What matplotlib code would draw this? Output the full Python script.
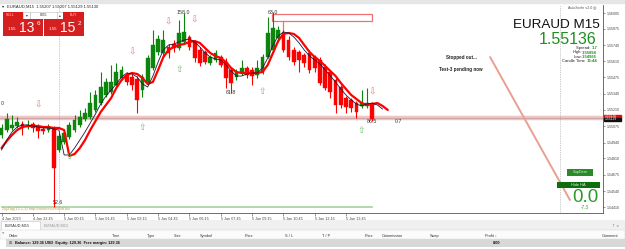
import matplotlib
matplotlib.use("Agg")
import matplotlib.pyplot as plt
from matplotlib.patches import Rectangle
import numpy as np

# ---------------- data ----------------
opens = [1.55002, 1.55043, 1.55060, 1.55076, 1.55093, 1.55068, 1.55093, 1.55068, 1.55052, 1.55043,
         1.55060, 1.54879, 1.54945, 1.54986, 1.55043, 1.55085, 1.55134, 1.55150, 1.55208, 1.55265,
         1.55331, 1.55356, 1.55413, 1.55471, 1.55496, 1.55479, 1.55463, 1.55372, 1.55438, 1.55553,
         1.55685, 1.55676, 1.55726, 1.55750, 1.55717, 1.55767, 1.55808, 1.55767, 1.55701, 1.55685,
         1.55594, 1.55619, 1.55643, 1.55602, 1.55537, 1.55479, 1.55512, 1.55553, 1.55537, 1.55496,
         1.55520, 1.55643, 1.55701, 1.55800, 1.55841, 1.55783, 1.55701, 1.55685, 1.55660, 1.55676,
         1.55643, 1.55619, 1.55561, 1.55520, 1.55454, 1.55397, 1.55306, 1.55290, 1.55265, 1.55241,
         1.55241, 1.55257]
highs = [1.55093, 1.55183, 1.55167, 1.55150, 1.55117, 1.55126, 1.55109, 1.55093, 1.55076, 1.55093,
         1.55076, 1.55019, 1.55043, 1.55109, 1.55167, 1.55208, 1.55224, 1.55356, 1.55372, 1.55520,
         1.55471, 1.55578, 1.55594, 1.55570, 1.55520, 1.55504, 1.55487, 1.55504, 1.55660, 1.55865,
         1.55824, 1.55865, 1.55750, 1.55783, 1.55948, 1.56005, 1.55824, 1.55783, 1.55726, 1.55701,
         1.55660, 1.55701, 1.55660, 1.55635, 1.55561, 1.55545, 1.55619, 1.55570, 1.55561, 1.55619,
         1.55668, 1.55972, 1.56013, 1.55898, 1.55865, 1.55816, 1.55726, 1.55701, 1.55676, 1.55701,
         1.55660, 1.55643, 1.55586, 1.55537, 1.55471, 1.55413, 1.55323, 1.55306, 1.55282, 1.55372,
         1.55389, 1.55274]
lows = [1.54978, 1.55027, 1.55043, 1.55060, 1.55002, 1.55052, 1.55027, 1.54978, 1.55011, 1.55027,
        1.54410, 1.54863, 1.54928, 1.54969, 1.55027, 1.55068, 1.55117, 1.55134, 1.55191, 1.55249,
        1.55315, 1.55339, 1.55397, 1.55454, 1.55413, 1.55372, 1.55183, 1.55315, 1.55422, 1.55537,
        1.55660, 1.55652, 1.55635, 1.55685, 1.55701, 1.55750, 1.55701, 1.55602, 1.55570, 1.55586,
        1.55578, 1.55602, 1.55561, 1.55389, 1.55348, 1.55454, 1.55496, 1.55471, 1.55413, 1.55471,
        1.55504, 1.55635, 1.55676, 1.55767, 1.55685, 1.55619, 1.55578, 1.55520, 1.55561, 1.55512,
        1.55520, 1.55413, 1.55372, 1.55306, 1.55183, 1.55224, 1.55183, 1.55191, 1.55142, 1.55224,
        1.55224, 1.55117]
closes = [1.55060, 1.55134, 1.55085, 1.55109, 1.55060, 1.55085, 1.55060, 1.55035, 1.55035, 1.55068,
          1.54731, 1.54994, 1.55019, 1.55085, 1.55126, 1.55150, 1.55183, 1.55265, 1.55331, 1.55397,
          1.55438, 1.55438, 1.55520, 1.55537, 1.55438, 1.55413, 1.55290, 1.55479, 1.55635, 1.55742,
          1.55791, 1.55783, 1.55676, 1.55717, 1.55841, 1.55849, 1.55726, 1.55635, 1.55594, 1.55602,
          1.55643, 1.55676, 1.55578, 1.55471, 1.55430, 1.55520, 1.55553, 1.55496, 1.55487, 1.55553,
          1.55643, 1.55841, 1.55882, 1.55865, 1.55701, 1.55643, 1.55602, 1.55619, 1.55594, 1.55537,
          1.55553, 1.55430, 1.55389, 1.55356, 1.55249, 1.55249, 1.55233, 1.55224, 1.55191, 1.55265,
          1.55265, 1.55136]

ma_slow = [1.54895, 1.54953, 1.55002, 1.55043, 1.55068, 1.55076, 1.55076, 1.55076, 1.55068, 1.55068,
           1.55060, 1.55060, 1.55043, 1.54830, 1.54846, 1.54895, 1.54961, 1.55043, 1.55117, 1.55191,
           1.55249, 1.55306, 1.55389, 1.55454, 1.55496, 1.55512, 1.55504, 1.55471, 1.55422, 1.55438,
           1.55537, 1.55643, 1.55701, 1.55726, 1.55742, 1.55750, 1.55767, 1.55775, 1.55759, 1.55717,
           1.55676, 1.55652, 1.55635, 1.55602, 1.55553, 1.55520, 1.55512, 1.55512, 1.55512, 1.55512,
           1.55520, 1.55578, 1.55676, 1.55775, 1.55833, 1.55841, 1.55833, 1.55800, 1.55742, 1.55685,
           1.55643, 1.55611, 1.55570, 1.55528, 1.55487, 1.55430, 1.55380, 1.55331, 1.55298, 1.55265,
           1.55249, 1.55257, 1.55265, 1.55241, 1.55208]
ma_fast = [1.54879, 1.54961, 1.55027, 1.55068, 1.55085, 1.55085, 1.55076, 1.55068, 1.55060, 1.55060,
           1.55052, 1.55043, 1.54838, 1.54838, 1.54895, 1.54961, 1.55027, 1.55101, 1.55175, 1.55257,
           1.55323, 1.55372, 1.55422, 1.55479, 1.55512, 1.55504, 1.55479, 1.55422, 1.55397, 1.55487,
           1.55602, 1.55701, 1.55742, 1.55750, 1.55767, 1.55783, 1.55791, 1.55767, 1.55726, 1.55676,
           1.55643, 1.55627, 1.55619, 1.55578, 1.55528, 1.55487, 1.55487, 1.55504, 1.55512, 1.55512,
           1.55553, 1.55635, 1.55742, 1.55816, 1.55849, 1.55841, 1.55808, 1.55759, 1.55701, 1.55652,
           1.55619, 1.55586, 1.55537, 1.55487, 1.55438, 1.55380, 1.55331, 1.55290, 1.55257, 1.55241,
           1.55257, 1.55265, 1.55249, 1.55216]

price_ticks = [1.56005, 1.55875, 1.55740, 1.55610, 1.55475, 1.55340, 1.55210,
               1.55075, 1.54940, 1.54810, 1.54675, 1.54540, 1.54410]
time_tick_bars = [0, 6, 12, 18, 24, 30, 36, 42, 48, 54, 60, 66]
time_labels = ["4 Jan 2023", "4 Jan 22:45", "5 Jan 00:15", "5 Jan 01:45", "5 Jan 03:15",
               "5 Jan 04:45", "5 Jan 06:15", "5 Jan 07:45", "5 Jan 09:15", "5 Jan 10:45",
               "5 Jan 12:15", "5 Jan 13:45"]

down_arrow_bars = [7, 25, 32, 37.0, 71]
down_arrow_prices = [1.55249, 1.55685, 1.55931, 1.55945, 1.55356]
up_arrow_bars = [13, 27, 34, 50, 69]
up_arrow_prices = [1.54822, 1.55068, 1.55537, 1.55356, 1.55043]

zz_labels = ["158.0", "63.0", "61.8", "86.5", "0.7", "52.6", "0"]
zz_bars = [34.8, 52, 44, 71, 76, 10.8, 0.1]
zz_prices = [1.56008, 1.56013, 1.55348, 1.55117, 1.55117, 1.54445, 1.55265]

bid_line = 1.55146
base_line = 1.54410
zone_bars = [51.8, 71.0]
zone_prices = [1.55939, 1.55997]
zone_stem_bar = 53.9
zone_stem_prices = [1.55701, 1.55939]
separator_bars = [11, 107]
trend_bars = [93.6, 108.9]
trend_prices = [1.55643, 1.54468]

# ---------------- figure ----------------
W, H = 625, 249
fig = plt.figure(figsize=(W / 100, H / 100), dpi=100)
fig.patch.set_facecolor("white")
FONT = ["Liberation Sans", "DejaVu Sans"]


def fx(x):
    return x / W


def fy(y):
    return 1 - y / H


ax = fig.add_axes([fx(0), fy(213), fx(603), (213 - 5) / H])
ax.set_facecolor("white")
ax.set_xlim(-0.29, 115.23)
ax.set_ylim(1.54361, 1.56071)

idx = np.arange(len(opens))
GREEN = "#0b850b"
RED = "#ff0000"

# horizontal lines
ax.axhline(bid_line, color="#ecc4c4", lw=3.2, zorder=1)
ax.axhline(bid_line, color="#c8a0a0", lw=0.6, zorder=1)
ax.plot([0, 71], [base_line, base_line], color="#a9cf9f", lw=1.2, zorder=1)
for b in separator_bars:
    ax.axvline(b, color="#9a9a9a", lw=0.5, ls=(0, (1, 1.5)), zorder=1)

# candles
for i in idx:
    o, h, l, c = opens[i], highs[i], lows[i], closes[i]
    col = GREEN if c >= o else RED
    ax.vlines(i, l, h, color=col, lw=0.8, zorder=3)
    bot = min(o, c)
    ht = max(abs(c - o), 0.00003)
    ax.bar(i, ht, bottom=bot, width=0.72, color=col, edgecolor=col, lw=0.3, zorder=4)

# moving averages
ax.plot(np.arange(len(ma_slow)), ma_slow, color="#ff0000", lw=1.6, zorder=5, solid_capstyle="round")
ax.plot(np.arange(len(ma_fast)), ma_fast, color="#1a1a3a", lw=0.6, zorder=6)

# zone rectangle + stem
ax.add_patch(Rectangle((zone_bars[0], zone_prices[0]), zone_bars[1] - zone_bars[0],
                       zone_prices[1] - zone_prices[0], fill=False, ec="#f07070", lw=0.9, zorder=2))
ax.plot([zone_stem_bar, zone_stem_bar], zone_stem_prices, color="#f07070", lw=0.9, zorder=2)

# diagonal trend line
ax.plot(trend_bars, trend_prices, color="#e8a090", lw=1.4, zorder=2, solid_capstyle="round")

# arrows
for b, p in zip(down_arrow_bars, down_arrow_prices):
    ax.text(b, p, "\u21e9", color="#e87878", fontsize=6.5, ha="center", va="center",
            family="DejaVu Sans", zorder=7)
for b, p in zip(up_arrow_bars, up_arrow_prices):
    ax.text(b, p, "\u21e7", color="#6cbf6c", fontsize=6.5, ha="center", va="center",
            family="DejaVu Sans", zorder=7)

# zigzag labels
for s, b, p in zip(zz_labels, zz_bars, zz_prices):
    ax.text(b, p, s, color="#333333", fontsize=3.8, ha="center", va="center", family=FONT, zorder=7)

# axes styling
for sp in ["left", "top"]:
    ax.spines[sp].set_visible(False)
for sp in ["right", "bottom"]:
    ax.spines[sp].set_color("#555555")
    ax.spines[sp].set_linewidth(0.6)
ax.yaxis.tick_right()
ax.set_yticks(price_ticks)
ax.set_yticklabels(["%.5f" % v for v in price_ticks], fontsize=2.6, family=FONT, color="#333333")
ax.tick_params(axis="y", length=1.5, width=0.4, pad=1.5, colors="#444444")
ax.set_xticks(time_tick_bars)
ax.set_xticklabels(time_labels, fontsize=2.7, family=FONT, color="#333333", ha="left")
ax.tick_params(axis="x", length=2, width=0.4, pad=1.0, colors="#444444")

# current price labels on axis
fig.add_artist(Rectangle((fx(604), fy(118)), fx(17), 3.2 / H, color="#e01010", transform=fig.transFigure))
fig.text(fx(605), fy(116.4), "1.55136", fontsize=2.4, color="white", va="center", family=FONT)
fig.add_artist(Rectangle((fx(604), fy(121)), fx(17), 3 / H, color="#111111", transform=fig.transFigure))
fig.text(fx(605), fy(119.5), "1.55129", fontsize=2.4, color="white", va="center", family=FONT)

# ---------------- overlays ----------------
fig.add_artist(Rectangle((0, fy(3)), 1, 3 / H, color="#e6e6e6", transform=fig.transFigure))
fig.text(fx(2), fy(6.5), "\u25be", fontsize=3, color="#222222", va="center", family="DejaVu Sans")
fig.text(fx(7), fy(6.5), "EURAUD,M15  1.55207 1.55207 1.55129 1.55130", fontsize=3, color="#222222",
         va="center", family=FONT)
fig.text(fx(596), fy(7), "AutoScale v2.0 \u25ce", fontsize=2.6, color="#555555", va="center",
         ha="right", family=FONT)


def frect(x0, y0, x1, y1, fc, ec=None, lw=0.0):
    fig.add_artist(Rectangle((fx(x0), fy(y1)), fx(x1 - x0), (y1 - y0) / H, facecolor=fc,
                             edgecolor=ec if ec else fc, lw=lw, transform=fig.transFigure))


# one click trading panel
frect(3, 12, 23, 19, "#d91c1c")
frect(23, 12, 30, 19, "white", "#bbbbbb", 0.4)
frect(30, 12, 57, 19, "white", "#bbbbbb", 0.4)
frect(57, 12, 63, 19, "white", "#bbbbbb", 0.4)
frect(63, 12, 84, 19, "#d91c1c")
fig.text(fx(6), fy(15.5), "SELL", fontsize=2.6, color="#ffd0d0", va="center", family=FONT)
fig.text(fx(70), fy(15.5), "BUY", fontsize=2.6, color="#ffd0d0", va="center", family=FONT)
fig.text(fx(26.5), fy(15.5), "\u25be", fontsize=2.6, color="#333333", va="center", ha="center")
fig.text(fx(60), fy(15.5), "\u25b4", fontsize=2.6, color="#333333", va="center", ha="center")
fig.text(fx(43.5), fy(15.5), "0.05", fontsize=2.8, color="#222222", va="center", ha="center", family=FONT)
frect(3, 19, 43, 36, "#d42020")
frect(44, 19, 84, 36, "#d42020")
fig.text(fx(8), fy(29.5), "1.55", fontsize=3.2, color="white", va="center", family=FONT)
fig.text(fx(19), fy(28), "13", fontsize=10, color="white", va="center", family=FONT)
fig.text(fx(37), fy(23.5), "6", fontsize=4.5, color="white", va="center", family=FONT)
fig.text(fx(49), fy(29.5), "1.55", fontsize=3.2, color="white", va="center", family=FONT)
fig.text(fx(60), fy(28), "15", fontsize=10, color="white", va="center", family=FONT)
fig.text(fx(78), fy(23.5), "2", fontsize=4.5, color="white", va="center", family=FONT)

# info block
fig.text(fx(600), fy(25), "EURAUD M15", fontsize=9.7, color="#111111", ha="right", va="center", family=FONT)
fig.text(fx(596), fy(40), "1.55136", fontsize=11.5, color="#1f8f1f", ha="right", va="center", family=FONT)
info_lines = [("Spread: ", "1.7", 48), ("High:", "1.55894", 52.5), ("Low:", "1.54966", 56.5),
              ("Candle Time ", "13:44", 61)]
fig.canvas.draw()
for lab, val, yy in info_lines:
    t = fig.text(fx(597), fy(yy), val, fontsize=3.0, color="#1f8f1f", ha="right", va="center",
                 family=FONT, weight="bold")
    bb = t.get_window_extent(renderer=fig.canvas.get_renderer())
    fig.text(bb.x0 / W, fy(yy), lab, fontsize=3.0, color="#222222", ha="right", va="center", family=FONT)

fig.text(fx(461), fy(57), "Stopped out...", fontsize=3.3, color="#222222", ha="center", va="center",
         family=FONT, weight="bold")
fig.text(fx(461), fy(69), "Test-3 pending now", fontsize=3.3, color="#222222", ha="center", va="center",
         family=FONT, weight="bold")

# buttons
frect(567, 169, 593, 176, "#2a8a2a")
fig.text(fx(580), fy(172.5), "SupDem", fontsize=2.8, color="#d8f0d8", ha="center", va="center", family=FONT)
frect(557, 182, 600, 188, "#0d6e0d")
fig.text(fx(578.5), fy(185), "Hide HA", fontsize=2.8, color="#e0f5e0", ha="center", va="center", family=FONT)
fig.text(fx(585), fy(197.5), "0.0", fontsize=13.5, color="#2a9a2a", ha="center", va="center", family=FONT)
fig.text(fx(585), fy(207.5), "-7.3", fontsize=3.3, color="#2a9a2a", ha="center", va="center", family=FONT)

# zigzag caption
fig.text(fx(2), fy(208.8), "ZigZag(12,5,3) http://www.investsoft.biz", fontsize=2.8, color="#b8a850",
         va="center", family=FONT)

# ---------------- bottom terminal ----------------
frect(0, 220, 625, 230, "#f0f0f0")
frect(1, 221, 40, 230, "white", "#c8c8c8", 0.4)
fig.text(fx(5), fy(225.5), "EURAUD,M15", fontsize=2.8, color="#333333", va="center", family=FONT)
fig.text(fx(44), fy(225.5), "EURAUD,M15", fontsize=2.8, color="#999999", va="center", family=FONT)
frect(0, 230, 625, 239, "#fbfbfb", "#d0d0d0", 0.3)
fig.text(fx(3), fy(232), "\u00d7", fontsize=3.0, color="#333333", va="center", ha="center", family=FONT)
headers = [("Order", 9), ("Time", 112), ("Type", 147), ("Size", 174), ("Symbol", 200), ("Price", 245),
           ("S / L", 285), ("T / P", 322), ("Price", 365), ("Commission", 382), ("Swap", 430),
           ("Profit \u2193", 485), ("Comment", 602)]
for s, xx in headers:
    fig.text(fx(xx), fy(235.5), s, fontsize=2.8, color="#333333", va="center", family=FONT)
frect(6, 239, 625, 247, "#d8d8d8")
fig.text(fx(9), fy(243), "\u229e", fontsize=2.8, color="#555555", va="center", family="DejaVu Sans")
fig.text(fx(15), fy(243), "Balance: 129.36 USD  Equity: 129.36  Free margin: 129.36", fontsize=2.8,
         color="#111111", va="center", family=FONT, weight="bold")
fig.text(fx(493), fy(243), "0.00", fontsize=2.8, color="#111111", va="center", family=FONT, weight="bold")
fig.text(fx(612), fy(225.5), "\u2191 \u00d7", fontsize=2.6, color="#777777", va="center", family="DejaVu Sans")

fig.savefig("out.png", dpi=100, facecolor="white")
